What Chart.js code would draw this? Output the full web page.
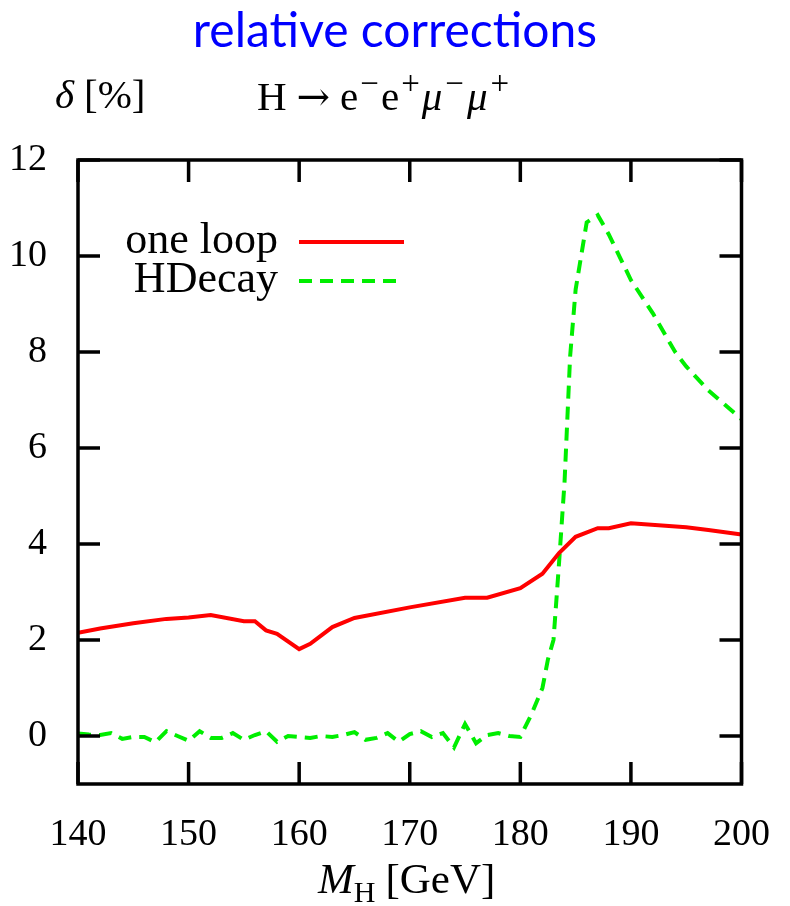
<!DOCTYPE html>
<html>
<head>
<meta charset="utf-8">
<script src="https://cdn.jsdelivr.net/npm/chart.js@4.4.1/dist/chart.umd.min.js"></script>
<style>
  html, body { margin: 0; padding: 0; background: #fff; }
  #wrap { width: 790px; height: 906px; }
</style>
</head>
<body>
<div id="wrap"><canvas id="corrChart" width="790" height="906"></canvas></div>
<script>
// ---------------- DATA ----------------
const massOneLoop = [140, 142, 145, 148, 150, 152, 155, 156, 157, 158, 160, 161, 163, 165, 170, 175, 177, 180, 182, 183.5, 185, 187, 188, 190, 195, 197, 200];
const deltaOneLoop = [2.15, 2.24, 2.35, 2.44, 2.47, 2.52, 2.39, 2.39, 2.2, 2.13, 1.81, 1.92, 2.27, 2.46, 2.68, 2.88, 2.88, 3.08, 3.38, 3.81, 4.15, 4.33, 4.33, 4.43, 4.35, 4.29, 4.2];

const massHDecay = [140, 141, 142, 143, 144, 145, 146, 147, 148, 149, 150, 151, 152, 153, 154, 155, 156, 157, 158, 159, 160, 161, 162, 163, 164, 165, 166, 167, 168, 169, 170, 171, 172, 173, 174, 175, 176, 177, 178, 179, 180, 181, 182, 182.5, 183, 183.5, 184, 184.5, 185, 186, 187, 188, 190, 192, 194, 195, 197, 200];
const deltaHDecay = [0.05, 0.03, 0.02, 0.06, -0.06, -0.02, -0.02, -0.13, 0.1, 0.0, -0.1, 0.1, -0.04, -0.04, 0.06, -0.08, 0.02, 0.1, -0.12, 0.0, -0.02, -0.04, 0.0, -0.02, 0.02, 0.08, -0.08, -0.04, 0.06, -0.12, 0.04, 0.1, -0.02, 0.06, -0.24, 0.25, -0.15, 0.02, 0.06, 0.0, -0.02, 0.45, 1.0, 1.6, 2.0, 3.6, 5.3, 7.9, 9.3, 10.7, 10.85, 10.45, 9.5, 8.8, 8.0, 7.7, 7.2, 6.6];

const xTicks = [140, 150, 160, 170, 180, 190, 200];
const yTicks = [0, 2, 4, 6, 8, 10, 12];

const seriesLabels = ["one loop", "HDecay"];
const seriesColors = ["#ff0000", "#00ee00"];

const serif = "'Liberation Serif', 'DejaVu Serif', serif";

// ---------------- PLUGIN: frame, inward ticks, legend, titles ----------------
const decorations = {
    id: "decorations",
    afterDraw(chart) {
        const ctx = chart.ctx;
        const a = chart.chartArea;
        const xs = chart.scales.x;
        const ys = chart.scales.y;
        const tickLen = 22;

        ctx.save();
        ctx.strokeStyle = "#000";
        ctx.lineWidth = 3.5;
        ctx.beginPath();
        yTicks.forEach(v => {
            const py = ys.getPixelForValue(v);
            ctx.moveTo(a.left, py); ctx.lineTo(a.left + tickLen, py);
            ctx.moveTo(a.right, py); ctx.lineTo(a.right - tickLen, py);
        });
        xTicks.forEach(v => {
            const px = xs.getPixelForValue(v);
            ctx.moveTo(px, a.bottom); ctx.lineTo(px, a.bottom - tickLen);
            ctx.moveTo(px, a.top); ctx.lineTo(px, a.top + tickLen);
        });
        ctx.stroke();
        ctx.strokeRect(a.left, a.top, a.right - a.left, a.bottom - a.top);

        // legend
        ctx.font = "44px " + serif;
        ctx.textAlign = "right";
        ctx.textBaseline = "alphabetic";
        const legendY = [242, 281];
        chart.data.datasets.forEach((ds, i) => {
            ctx.fillStyle = "#000";
            ctx.fillText(ds.label, 278, legendY[i] + 11);
            ctx.strokeStyle = ds.borderColor;
            ctx.lineWidth = ds.borderWidth;
            ctx.setLineDash(ds.borderDash || []);
            ctx.beginPath();
            ctx.moveTo(299, legendY[i]);
            ctx.lineTo(404, legendY[i]);
            ctx.stroke();
        });
        ctx.setLineDash([]);

        // title
        ctx.textAlign = "center";
        ctx.fillStyle = "#0000ff";
        ctx.font = "48px Lato, 'DejaVu Sans', sans-serif";
        ctx.fillText("relative corrections", 395, 47);

        // y label and process
        ctx.fillStyle = "#000";
        ctx.textAlign = "left";
        const drawRuns = (runs, x0, base) => {
            let x = x0;
            runs.forEach(r => {
                ctx.font = r.font;
                ctx.fillText(r.t, x, base + (r.dy || 0));
                x += ctx.measureText(r.t).width + (r.gap || 0);
            });
        };
        const up = "41px " + serif;
        const it = "italic 41px " + serif;
        const sm = "33px " + serif;
        drawRuns([{ t: "δ", font: it, gap: 10 }, { t: "[%]", font: up }], 55, 108);
        drawRuns([
            { t: "H", font: up, gap: 10 }, { t: "→", font: "40px 'DejaVu Serif', serif", gap: 10 },
            { t: "e", font: up, gap: 2 }, { t: "−", font: sm, dy: -16, gap: 2 },
            { t: "e", font: up, gap: 2 }, { t: "+", font: sm, dy: -16, gap: 2 },
            { t: "μ", font: it, gap: 3 }, { t: "−", font: sm, dy: -16, gap: 3 },
            { t: "μ", font: it, gap: 3 }, { t: "+", font: sm, dy: -16 }
        ], 257, 110);

        // x label
        drawRuns([
            { t: "M", font: "italic 43px " + serif }, { t: "H", font: "30px " + serif, dy: 9, gap: 10 },
            { t: "[GeV]", font: "43px " + serif }
        ], 318, 893);
        ctx.restore();
    }
};

// ---------------- CHART ----------------
const canvas = document.getElementById("corrChart");

new Chart(canvas, {
    type: "line",
    data: {
        datasets: [{
            label: seriesLabels[0],
            data: massOneLoop.map((m, i) => ({ x: m, y: deltaOneLoop[i] })),
            borderColor: seriesColors[0],
            borderWidth: 4,
            pointRadius: 0,
            tension: 0,
            fill: false
        }, {
            label: seriesLabels[1],
            data: massHDecay.map((m, i) => ({ x: m, y: deltaHDecay[i] })),
            borderColor: seriesColors[1],
            borderWidth: 4,
            borderDash: [13, 8],
            pointRadius: 0,
            tension: 0,
            fill: false
        }]
    },
    options: {
        responsive: false,
        animation: false,
        layout: {
            padding: { left: 0, right: 48, top: 160, bottom: 0 }
        },
        plugins: {
            legend: { display: false },
            tooltip: { enabled: false }
        },
        scales: {
            x: {
                type: "linear",
                min: 140,
                max: 200,
                afterBuildTicks: s => { s.ticks = xTicks.map(v => ({ value: v })); },
                afterFit: s => { s.height = 122; },
                grid: { display: false },
                border: { display: false },
                ticks: {
                    color: "#000",
                    padding: 20,
                    maxRotation: 0,
                    font: { family: serif, size: 38 }
                }
            },
            y: {
                min: -1,
                max: 12,
                afterBuildTicks: s => { s.ticks = yTicks.map(v => ({ value: v })); },
                afterFit: s => { s.width = 78; },
                grid: { display: false },
                border: { display: false },
                ticks: {
                    color: "#000",
                    padding: 23,
                    font: { family: serif, size: 38 }
                }
            }
        }
    },
    plugins: [decorations]
});
</script>
</body>
</html>
